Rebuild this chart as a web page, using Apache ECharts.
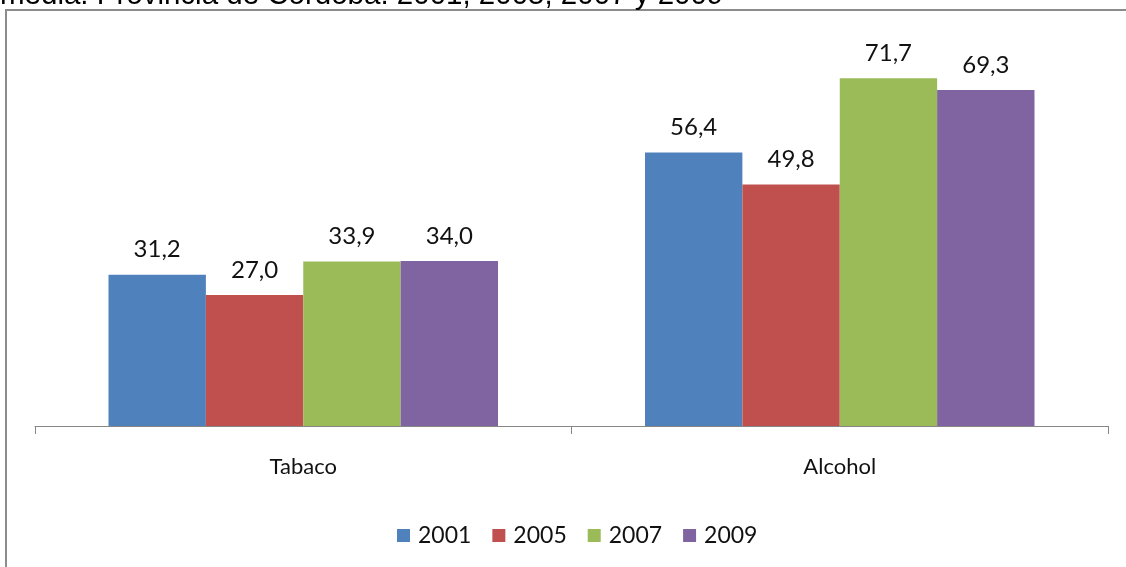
<!DOCTYPE html>
<html>
<head>
<meta charset="utf-8">
<script src="https://cdn.jsdelivr.net/npm/echarts@6/dist/echarts.min.js"></script>
<style>
  html, body { margin: 0; padding: 0; background: #fff; }
  #chart { width: 1126px; height: 567px; }
</style>
</head>
<body>
<div id="chart"></div>
<script>
// Consumption prevalence by substance and survey year
const categories = ['Tabaco', 'Alcohol'];
const years = ['2001', '2005', '2007', '2009'];
const values2001 = [31.2, 56.4];
const values2005 = [27.0, 49.8];
const values2007 = [33.9, 71.7];
const values2009 = [34.0, 69.3];
const seriesValues = [values2001, values2005, values2007, values2009];
const colors = ['#4F81BD', '#C0504D', '#9BBB59', '#8064A2'];
const headerText = 'media. Provincia de Córdoba. 2001, 2005, 2007 y 2009';

const fmt = v => v.toFixed(1).replace('.', ',');
const labelFont = 'Lato, "Open Sans", sans-serif';

const chart = echarts.init(document.getElementById('chart'));
chart.setOption({
  animation: false,
  backgroundColor: '#ffffff',
  graphic: [
    {
      type: 'text',
      left: 0,
      top: -19,
      z: 10,
      style: {
        text: headerText,
        font: '29.5px "Liberation Sans", Arial, sans-serif',
        fill: '#000000'
      }
    },
    {
      type: 'polyline',
      z: 5,
      shape: { points: [[6, 567], [6, 10], [1126, 10]] },
      style: { stroke: '#8c8c8c', lineWidth: 2, fill: null }
    }
  ],
  grid: { left: 35, right: 18, top: 38, bottom: 141, containLabel: false },
  legend: {
    data: years,
    left: 392,
    top: 519,
    itemWidth: 13,
    itemHeight: 13,
    itemGap: 21,
    icon: 'rect',
    textStyle: { fontFamily: labelFont, fontSize: 23, color: '#111111', padding: [0, 0, 0, 3] }
  },
  xAxis: {
    type: 'category',
    data: categories,
    axisLine: { lineStyle: { color: '#868686', width: 1 } },
    axisTick: { show: true, length: 8, lineStyle: { color: '#868686' } },
    axisLabel: { margin: 30, fontFamily: labelFont, fontSize: 22, color: '#111111' }
  },
  yAxis: {
    type: 'value',
    min: 0,
    max: 80,
    show: false,
    splitLine: { show: false }
  },
  series: years.map((y, i) => ({
    name: y,
    type: 'bar',
    data: seriesValues[i],
    barGap: '0%',
    barCategoryGap: '27.4%',
    itemStyle: { color: colors[i] },
    label: {
      show: true,
      position: 'top',
      distance: 13,
      formatter: p => fmt(p.value),
      fontFamily: labelFont,
      fontSize: 24,
      color: '#111111'
    }
  }))
});
</script>
</body>
</html>
